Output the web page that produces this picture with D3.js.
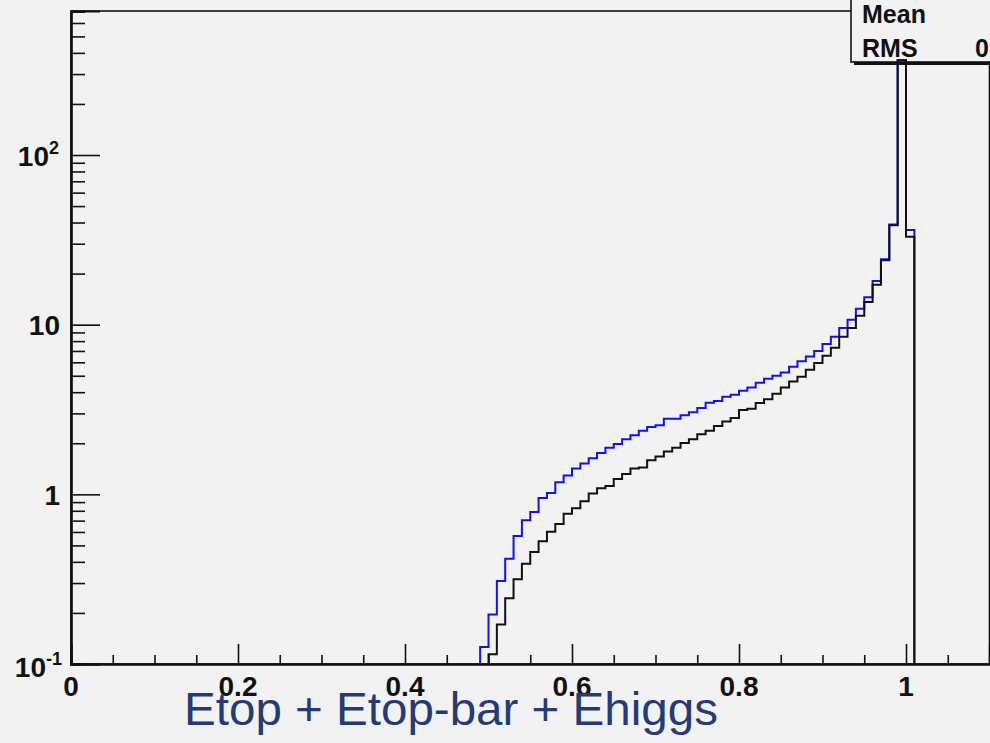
<!DOCTYPE html>
<html><head><meta charset="utf-8">
<script src="https://cdn.jsdelivr.net/npm/d3@7"></script>
<style>
html,body{margin:0;padding:0;background:#f2f2f2;}
svg{display:block;}
text{font-family:"Liberation Sans",Arial,Helvetica,sans-serif;}
</style></head>
<body>
<svg id="c" width="990" height="743"></svg>
<script>
// ---- data ----
const binLowEdges = [0.49,0.50,0.51,0.52,0.53,0.54,0.55,0.56,0.57,0.58,0.59,0.60,0.61,0.62,0.63,0.64,0.65,0.66,0.67,0.68,0.69,0.70,0.71,0.72,0.73,0.74,0.75,0.76,0.77,0.78,0.79,0.80,0.81,0.82,0.83,0.84,0.85,0.86,0.87,0.88,0.89,0.90,0.91,0.92,0.93,0.94,0.95,0.96,0.97,0.98,0.99,1.00];
const binWidth = 0.01;
const blueValues = [0.126,0.196,0.308,0.417,0.568,0.703,0.787,0.951,1.02,1.18,1.29,1.42,1.52,1.63,1.75,1.88,1.98,2.11,2.23,2.37,2.49,2.55,2.79,2.79,2.93,3.05,3.23,3.47,3.55,3.76,3.86,4.08,4.27,4.55,4.80,5.00,5.23,5.65,6.08,6.50,6.99,7.69,8.49,9.55,10.7,12.4,14.5,18.1,24.3,39.0,362,36.2];
const blackValues = [0,0.114,0.171,0.244,0.316,0.390,0.457,0.529,0.602,0.668,0.769,0.827,0.909,1.01,1.085,1.12,1.23,1.32,1.42,1.44,1.59,1.67,1.79,1.88,2.01,2.11,2.26,2.37,2.53,2.69,2.82,3.14,3.19,3.45,3.64,3.92,4.27,4.63,4.93,5.42,5.94,6.56,7.31,8.49,9.55,11.3,13.6,17.2,24.0,38.6,362,33.0];
const xMajorTicks = [0,0.2,0.4,0.6,0.8,1.0];
const xTickLabels = ["0","0.2","0.4","0.6","0.8","1"];
const xMinorTicks = [0.05,0.1,0.15,0.25,0.3,0.35,0.45,0.5,0.55,0.65,0.7,0.75,0.85,0.9,0.95,1.05];
const yMajorTicks = [0.1,1,10,100];
const yTickBase = ["10","1","10","10"];
const yTickExp = ["-1","","","2"];
const yMinorTicks = [0.2,0.3,0.4,0.5,0.6,0.7,0.8,0.9,2,3,4,5,6,7,8,9,20,30,40,50,60,70,80,90,200,300,400,500,600,700];
const xDomain = [0,1.1];
const yDomain = [0.1,706];
const titleText = "Etop + Etop-bar + Ehiggs";
const statsLabels = ["Mean","RMS"];
const statsValues = ["","0"];

// ---- layout ----
const L=71, R=989.5, T=11, B=664;
const svg = d3.select("#c");
svg.append("rect").attr("width",990).attr("height",743).attr("fill","#f2f2f2");

const x = d3.scaleLinear().domain(xDomain).range([L,R]);
const y = d3.scaleLog().domain(yDomain).range([B,T]);

// frame
svg.append("rect").attr("x",L).attr("y",T).attr("width",R-L).attr("height",B-T)
  .attr("fill","none").attr("stroke","#111").attr("stroke-width",1.6);

// x axis (ticks inward)
const gx = svg.append("g").attr("transform",`translate(0,${B})`);
gx.call(d3.axisBottom(x).tickValues(xMajorTicks).tickSize(-20).tickFormat(""));
const gxm = svg.append("g").attr("transform",`translate(0,${B})`);
gxm.call(d3.axisBottom(x).tickValues(xMinorTicks).tickSize(-9).tickFormat(""));
[gx,gxm].forEach(g=>{
  g.select(".domain").attr("stroke","#111").attr("stroke-width",2.2);
  g.selectAll(".tick line").attr("stroke","#111").attr("stroke-width",1.6);
});
svg.append("g").selectAll("text").data(xMajorTicks).join("text")
  .attr("x",d=>x(d)).attr("y",695.5).attr("text-anchor","middle")
  .attr("font-size",28).attr("font-weight","bold").attr("fill","#111")
  .text((d,i)=>xTickLabels[i]);

// y axis
const gy = svg.append("g").attr("transform",`translate(${L},0)`);
gy.call(d3.axisLeft(y).tickValues(yMajorTicks).tickSize(-29).tickFormat(""));
const gym = svg.append("g").attr("transform",`translate(${L},0)`);
gym.call(d3.axisLeft(y).tickValues(yMinorTicks).tickSize(-14).tickFormat(""));
[gy,gym].forEach(g=>{
  g.select(".domain").attr("stroke","#111").attr("stroke-width",2.2);
  g.selectAll(".tick line").attr("stroke","#111").attr("stroke-width",1.6);
});
const yl = svg.append("g").selectAll("text").data(yMajorTicks).join("text")
  .attr("x",(d,i)=>yTickExp[i]==="-1"?62:(yTickExp[i]?59:60))
  .attr("y",(d,i)=>y(d)+(i===0?13:10.5))
  .attr("text-anchor","end").attr("font-size",28).attr("font-weight","bold").attr("fill","#111");
yl.each(function(d,i){
  const t=d3.select(this);
  t.append("tspan").text(yTickBase[i]);
  if(yTickExp[i]) t.append("tspan").attr("font-size",18).attr("dy",-12).text(yTickExp[i]);
});

// stats box
svg.append("rect").attr("x",854).attr("y",-4).attr("width",150).attr("height",69).attr("fill","#111");
svg.append("rect").attr("x",851).attr("y",-6).attr("width",150).attr("height",68)
  .attr("fill","#f2f2f2").attr("stroke","#111").attr("stroke-width",1.6);
svg.append("g").selectAll("text").data(statsLabels).join("text")
  .attr("x",862).attr("y",(d,i)=>23+i*34).attr("font-size",25).attr("font-weight","bold").attr("fill","#111")
  .text(d=>d);
svg.append("g").selectAll("text").data(statsValues).join("text")
  .attr("x",975).attr("y",(d,i)=>23+i*34).attr("font-size",25).attr("font-weight","bold").attr("fill","#111")
  .text(d=>d);

// histograms
function stepPoints(vals){
  const pts=[];
  let started=false, lastHi=null;
  vals.forEach((v,i)=>{
    if(!(v>0)) return;
    const lo=binLowEdges[i], hi=lo+binWidth;
    if(!started){ pts.push([x(lo),y(yDomain[0])]); started=true; }
    pts.push([x(lo),y(v)]); pts.push([x(hi),y(v)]);
    lastHi=hi;
  });
  pts.push([x(lastHi),y(yDomain[0])]);
  return pts;
}
const line = d3.line();
svg.append("path").attr("d",line(stepPoints(blueValues))).attr("fill","none")
  .attr("stroke","#1010ff").attr("stroke-width",2);
svg.append("path").attr("d",line(stepPoints(blackValues))).attr("fill","none")
  .attr("stroke","#111").attr("stroke-width",2);

// title
svg.append("text").attr("x",184).attr("y",725).attr("font-size",46).attr("fill","#253a78")
  .attr("textLength",534).attr("lengthAdjust","spacingAndGlyphs")
  .text(titleText);
</script>
</body></html>
